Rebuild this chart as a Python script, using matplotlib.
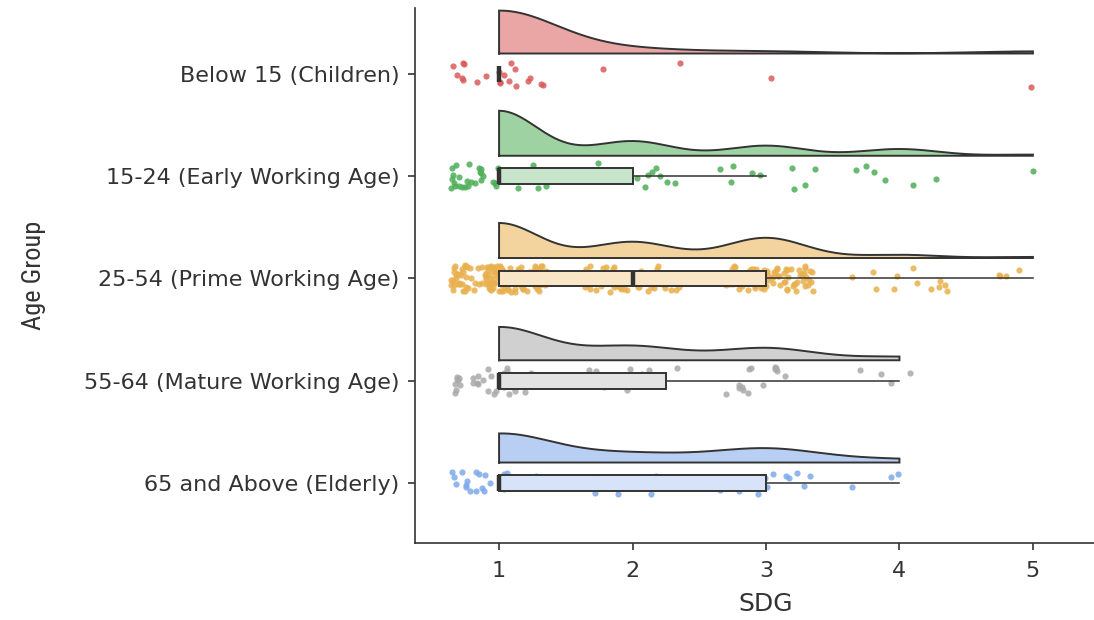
import numpy as np
import matplotlib
matplotlib.use("Agg")
import matplotlib.pyplot as plt
import matplotlib.transforms as mtransforms
from matplotlib.colors import to_rgb

# -----------------------------
# Data (counts of respondents per SDG level)
# -----------------------------

age_groups = [
    "Below 15 (Children)",
    "15-24 (Early Working Age)",
    "25-54 (Prime Working Age)",
    "55-64 (Mature Working Age)",
    "65 and Above (Elderly)",
]
sdg_levels = [1, 2, 3, 4, 5]

counts_children = [20, 2, 1, 0, 1]
counts_early = [40, 13, 9, 6, 1]
counts_prime = [130, 60, 75, 12, 4]
counts_mature = [38, 16, 14, 4, 0]
counts_elderly = [27, 8, 13, 3, 0]

all_counts = [counts_children, counts_early, counts_prime, counts_mature, counts_elderly]

point_colors = ["#D95C5C", "#4FAE58", "#E9B04E", "#A9A9A9", "#7EA8EA"]

# -----------------------------
# Helpers
# -----------------------------


def expand(counts):
    return np.repeat(np.array(sdg_levels, dtype=float), counts)


def bw_nrd0(x):
    hi = np.std(x, ddof=1)
    q75, q25 = np.percentile(x, [75, 25])
    lo = min(hi, (q75 - q25) / 1.34)
    if lo == 0:
        lo = hi if hi > 0 else 1.0
    return 0.9 * lo * len(x) ** (-0.2)


def kde(x, grid):
    h = bw_nrd0(x)
    z = (grid[:, None] - x[None, :]) / h
    return np.exp(-0.5 * z ** 2).sum(axis=1) / (len(x) * h * np.sqrt(2 * np.pi))


def lighten(color, a):
    r, g, b = to_rgb(color)
    return (1 - a + a * r, 1 - a + a * g, 1 - a + a * b)


# -----------------------------
# Plot
# -----------------------------

fig = plt.figure(figsize=(10.94, 6.2), dpi=100)
ax_left, ax_right = 415 / 1094, 1117 / 1094
ax_bottom, ax_top = 1 - 543 / 620, 1 - 8 / 620
ax = fig.add_axes([ax_left, ax_bottom, ax_right - ax_left, ax_top - ax_bottom])

positions = [5, 4, 3, 2, 1]
rng = np.random.default_rng(11)

densities = []
for counts in all_counts:
    x = expand(counts)
    grid = np.linspace(x.min(), x.max(), 512)
    densities.append((grid, kde(x, grid)))

scale = 0.44 / max(d.max() for _, d in densities)

for pos, counts, color, (grid, dens) in zip(positions, all_counts, point_colors, densities):
    x = expand(counts)

    # half violin
    base = pos + 0.2
    ax.fill_between(grid, base, base + dens * scale, facecolor=lighten(color, 0.55),
                    edgecolor="none", zorder=2)
    outline_x = np.concatenate([[grid[0]], grid, [grid[-1], grid[0]]])
    outline_y = np.concatenate([[base], base + dens * scale, [base, base]])
    ax.plot(outline_x, outline_y, color="#333333", lw=1.4, zorder=3,
            solid_joinstyle="miter")

    # jittered points
    jx = x + rng.uniform(-0.37, 0.37, len(x))
    jy = pos + rng.uniform(-0.13, 0.13, len(x))
    ax.scatter(jx, jy, s=20, color=color, alpha=0.85, linewidths=0, zorder=4)

    # narrow box plot
    ax.boxplot([x], positions=[pos], orientation="horizontal", widths=0.155,
               showfliers=False, showcaps=False, patch_artist=True,
               boxprops=dict(facecolor=lighten(color, 0.32), edgecolor="#333333", linewidth=1.4),
               medianprops=dict(color="#333333", linewidth=3.2, solid_capstyle="butt"),
               whiskerprops=dict(color="#333333", linewidth=1.1),
               zorder=5)

ax.set_xlim(0.37, 5.63)
ax.set_ylim(0.413, 5.645)

ax.set_xticks(sdg_levels)
ax.set_xticklabels([str(v) for v in sdg_levels])
ax.set_yticks(positions)
ax.set_yticklabels(age_groups)

for side in ["top", "right"]:
    ax.spines[side].set_visible(False)
for side in ["left", "bottom"]:
    ax.spines[side].set_color("#333333")
    ax.spines[side].set_linewidth(1.2)

ax.tick_params(axis="both", colors="#333333", length=5, width=1.2,
               labelsize=16, labelcolor="#333333")
ax.tick_params(axis="y", pad=6)
ax.tick_params(axis="x", pad=8)
for lbl in ax.get_xticklabels() + ax.get_yticklabels():
    lbl.set_family(["DejaVu Sans"])

ax.set_xlabel("SDG", fontsize=18, color="#333333", labelpad=8,
              family=["DejaVu Sans"])
ax.set_ylabel("Age Group", fontsize=19, color="#333333",
              family=["Liberation Sans Narrow", "Roboto Condensed", "Liberation Sans", "DejaVu Sans"])
ax.yaxis.set_label_coords(46 / 1094, 0.5,
                          transform=mtransforms.blended_transform_factory(fig.transFigure, ax.transAxes))

fig.savefig("out.png", dpi=100)
